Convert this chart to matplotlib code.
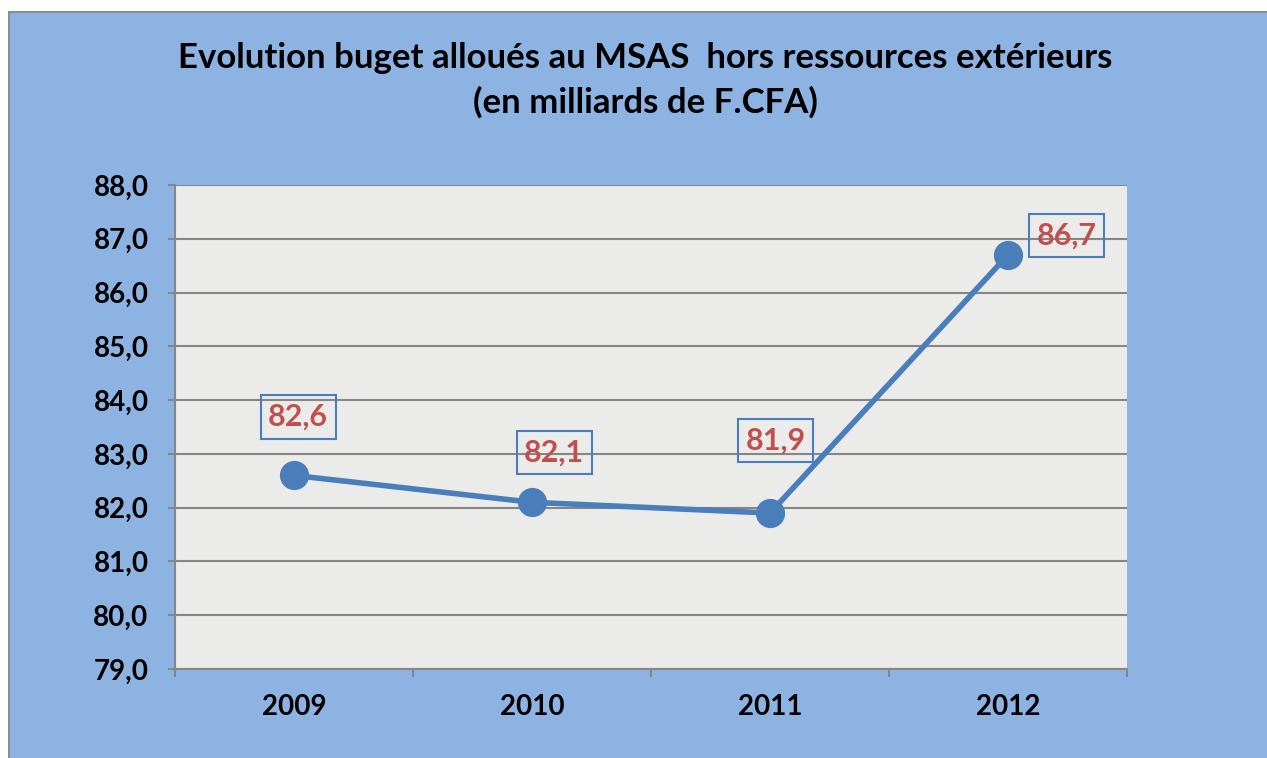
import matplotlib
matplotlib.use('Agg')
import matplotlib.pyplot as plt
from matplotlib.patches import Rectangle
from matplotlib.ticker import MultipleLocator, FuncFormatter

years = ['2009', '2010', '2011', '2012']
budget = [82.6, 82.1, 81.9, 86.7]
value_labels = ['82,6', '82,1', '81,9', '86,7']
# label offsets in points, as placed on the original chart
label_offsets = [(3, 42), (16, 36), (4, 52), (42, 14)]

blue_bg = '#8DB3E2'
line_col = '#4A7EBB'
red_col = '#C0504D'
font = 'Lato'

W, H = 1267, 758
fig = plt.figure(figsize=(W / 100, H / 100), dpi=100)
fig.patch.set_facecolor('white')

# chart area with grey border (cut off at right/bottom)
fig.patches.append(Rectangle((9 / W, -0.05), 1.2, 1 - 12 / H + 0.05,
                             transform=fig.transFigure, facecolor=blue_bg,
                             edgecolor='#8C8C8C', lw=1.5, zorder=-10))

ax = fig.add_axes([175 / W, 1 - 669 / H, (1127 - 175) / W, (669 - 185) / H])
ax.set_zorder(5)
ax.set_facecolor('#EBEBE9')

x = list(range(len(years)))
ax.plot(x, budget, '-o', color=line_col, lw=4, markersize=20, zorder=3)

ax.set_xlim(-0.5, 3.5)
ax.set_ylim(79, 88)
ax.yaxis.set_major_locator(MultipleLocator(1))
ax.yaxis.set_major_formatter(FuncFormatter(lambda v, p: ('%.1f' % v).replace('.', ',')))
ax.set_xticks(x)
ax.set_xticklabels(years)
ax.set_xticks([-0.5, 0.5, 1.5, 2.5, 3.5], minor=True)
ax.tick_params(axis='x', which='major', length=0, pad=18)
ax.tick_params(axis='x', which='minor', length=6, width=1.5, color='#868686', direction='out')
ax.tick_params(axis='y', length=5, width=1.5, color='#868686', pad=14)
for label in ax.get_xticklabels() + ax.get_yticklabels():
    label.set_fontsize(20)
    label.set_fontweight('bold')
    label.set_family(font)

ax.yaxis.grid(True, color='#868686', lw=1.5)
ax.set_axisbelow(True)
for side in ['top', 'right']:
    ax.spines[side].set_visible(False)
for side in ['left', 'bottom']:
    ax.spines[side].set_color('#868686')
    ax.spines[side].set_linewidth(1.5)

for xi, yi, txt, off in zip(x, budget, value_labels, label_offsets):
    ax.annotate(txt, (xi, yi), xytext=off, textcoords='offset points',
                ha='center', va='center', fontsize=22, fontweight='bold',
                family=font, color=red_col, zorder=4,
                bbox=dict(boxstyle='square,pad=0.25', facecolor='none',
                          edgecolor=line_col, lw=1.5))

fig.text(645 / W, 1 - 58 / H, 'Evolution buget alloués au MSAS  hors ressources extérieurs',
         ha='center', va='center', fontsize=25, fontweight='bold', family=font)
fig.text(645 / W, 1 - 102 / H, '(en milliards de F.CFA)',
         ha='center', va='center', fontsize=25, fontweight='bold', family=font)

fig.savefig('out.png', dpi=100, facecolor=fig.get_facecolor())
